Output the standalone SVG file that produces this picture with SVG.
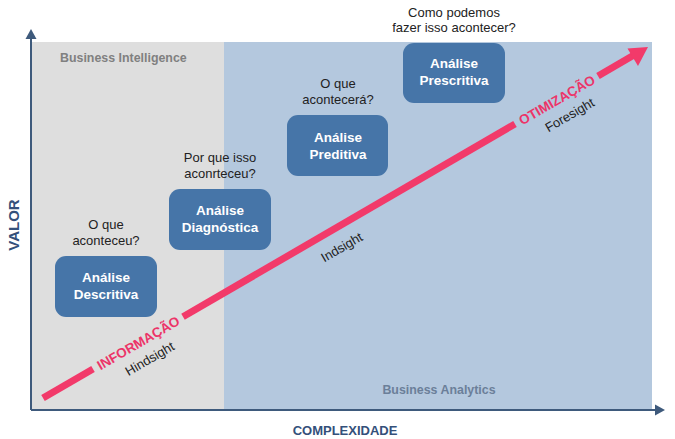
<svg xmlns="http://www.w3.org/2000/svg" width="675" height="439" viewBox="0 0 675 439">
<defs>
<style>
.q{font-family:"Liberation Sans",Arial,sans-serif;font-size:13px;fill:#222;text-anchor:middle}
.bt{font-family:"Liberation Sans",Arial,sans-serif;font-size:13.5px;font-weight:bold;fill:#fff;text-anchor:middle}
.box{fill:#4675a8}
.ax{font-family:"Liberation Sans",Arial,sans-serif;font-weight:bold;fill:#34507a;text-anchor:middle}
.zone{font-family:"Liberation Sans",Arial,sans-serif;font-size:12.4px;font-weight:bold}
.pk{font-family:"Liberation Sans",Arial,sans-serif;font-size:13.5px;font-weight:bold;fill:#ec3468;text-anchor:middle}
.sg{font-family:"Liberation Sans",Arial,sans-serif;font-size:13px;fill:#222;text-anchor:middle}
.ln{stroke:#f23a6a;stroke-width:7;fill:none}
</style>
</defs>
<rect width="675" height="439" fill="#fff"/>
<g id="background">
<rect x="31" y="42" width="193" height="368" fill="#dedede"/>
<rect x="224" y="42" width="428" height="368" fill="#b4c8de"/>
<text class="zone" x="60" y="62" fill="#808080">Business Intelligence</text>
<text class="zone" x="439" y="394" fill="#6b7f99" text-anchor="middle">Business Analytics</text>
</g>
<g id="axes">
<line x1="31" y1="410" x2="31" y2="38" stroke="#3e5a7c" stroke-width="2"/>
<polygon points="31,29 25.5,39 36.5,39" fill="#3e5a7c"/>
<line x1="31" y1="410" x2="656" y2="410" stroke="#3e5a7c" stroke-width="2"/>
<polygon points="665,410 655,404.5 655,415.5" fill="#3e5a7c"/>
<text class="ax" font-size="15" transform="translate(19,225) rotate(-90)">VALOR</text>
<text class="ax" font-size="13" x="345" y="435">COMPLEXIDADE</text>
</g>
<g id="connectors">
<line class="ln" x1="43" y1="398" x2="93" y2="369"/>
<line class="ln" x1="183" y1="316.8" x2="515" y2="124"/>
<line class="ln" x1="598" y1="76" x2="634" y2="55"/>
<polygon points="648,47 627.5,48.5 638,66" fill="#f23a6a"/>
<text class="pk" transform="translate(138.2,342.8) rotate(-30.1)" y="5">INFORMAÇÃO</text>
<text class="sg" transform="translate(140,341.8) rotate(-30.1)" y="24">Hindsight</text>
<text class="sg" transform="translate(332,230.3) rotate(-30.1)" y="24">Indsight</text>
<text class="pk" transform="translate(556.8,99.8) rotate(-30.1)" y="5">OTIMIZAÇÃO</text>
<text class="sg" transform="translate(559.8,98.1) rotate(-30.1)" y="24">Foresight</text>
</g>
<g id="descritiva">
<text class="q" x="106" y="229">O que</text>
<text class="q" x="106" y="245">aconteceu?</text>
<rect class="box" x="55" y="256" width="102" height="61" rx="11"/>
<text class="bt" x="106" y="282">Análise</text>
<text class="bt" x="106" y="299">Descritiva</text>
</g>
<g id="diagnostica">
<text class="q" x="220" y="162">Por que isso</text>
<text class="q" x="220" y="178">aconrteceu?</text>
<rect class="box" x="169" y="189" width="102" height="61" rx="11"/>
<text class="bt" x="220" y="215">Análise</text>
<text class="bt" x="220" y="232">Diagnóstica</text>
</g>
<g id="preditiva">
<text class="q" x="338" y="88">O que</text>
<text class="q" x="338" y="104">acontecerá?</text>
<rect class="box" x="287" y="115" width="101" height="61" rx="11"/>
<text class="bt" x="338" y="142">Análise</text>
<text class="bt" x="338" y="159">Preditiva</text>
</g>
<g id="prescritiva">
<text class="q" x="454" y="17">Como podemos</text>
<text class="q" x="454" y="32">fazer isso acontecer?</text>
<rect class="box" x="403" y="43" width="102" height="60" rx="11"/>
<text class="bt" x="454" y="68">Análise</text>
<text class="bt" x="454" y="85">Prescritiva</text>
</g>
</svg>
